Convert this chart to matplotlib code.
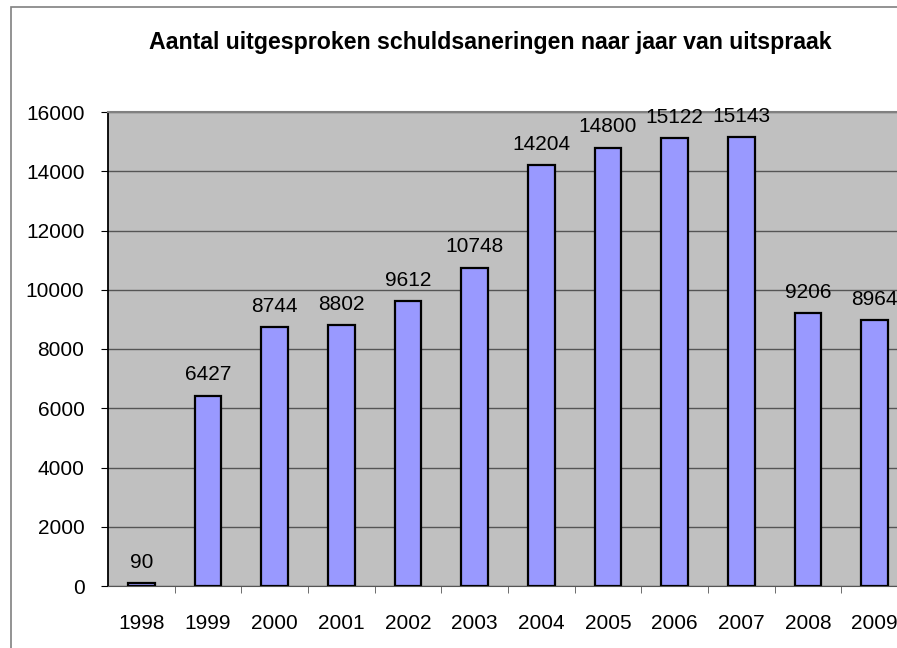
import matplotlib.pyplot as plt
from matplotlib.patches import Rectangle

plt.rcParams['font.family'] = ['Liberation Sans', 'DejaVu Sans']

years = ['1998', '1999', '2000', '2001', '2002', '2003',
         '2004', '2005', '2006', '2007', '2008', '2009']
counts = [90, 6427, 8744, 8802, 9612, 10748,
          14204, 14800, 15122, 15143, 9206, 8964]

fig = plt.figure(figsize=(8.97, 6.48), dpi=100)

# outer frame of the chart (runs past the right and bottom edges)
fig.patches.append(Rectangle((11 / 897, -0.1), 1.2, 1 - 7 / 648 + 0.1,
                             transform=fig.transFigure, fill=False,
                             edgecolor='#808080', lw=1.2))

ax = fig.add_axes([108 / 897, 62 / 648, 800 / 897, 474 / 648])
ax.set_facecolor('#C0C0C0')

x = list(range(len(years)))
ax.bar(x, counts, width=0.4, color='#9999FF', edgecolor='black', lw=1.6, zorder=3)
for xi, v in zip(x, counts):
    ax.annotate(str(v), (xi, v), xytext=(0, 8), textcoords='offset points',
                ha='center', va='bottom', fontsize=15, zorder=4)

ax.set_xlim(-0.5, len(years) - 0.5)
ax.set_ylim(0, 16000)
ax.set_yticks(range(0, 16001, 2000))
ax.set_xticks(x)
ax.set_xticklabels(years)
ax.set_xticks([i - 0.5 for i in range(1, len(years))], minor=True)
ax.tick_params(axis='x', which='major', length=0, pad=20, labelsize=15)
ax.tick_params(axis='x', which='minor', length=5, direction='out', color='#555555')
ax.tick_params(axis='y', length=5, pad=12, labelsize=15)

ax.yaxis.grid(True, color='#555555', lw=1, zorder=1)
ax.set_axisbelow(True)
ax.spines['right'].set_visible(False)
ax.spines['top'].set_color('#808080')
ax.spines['top'].set_linewidth(1.5)
ax.spines['left'].set_linewidth(1.3)
ax.spines['bottom'].set_color('#555555')

fig.text(490 / 897, 1 - 43 / 648, 'Aantal uitgesproken schuldsaneringen naar jaar van uitspraak',
         ha='center', va='center', fontsize=16.7, fontweight='bold')

fig.savefig('out.png', dpi=100)
